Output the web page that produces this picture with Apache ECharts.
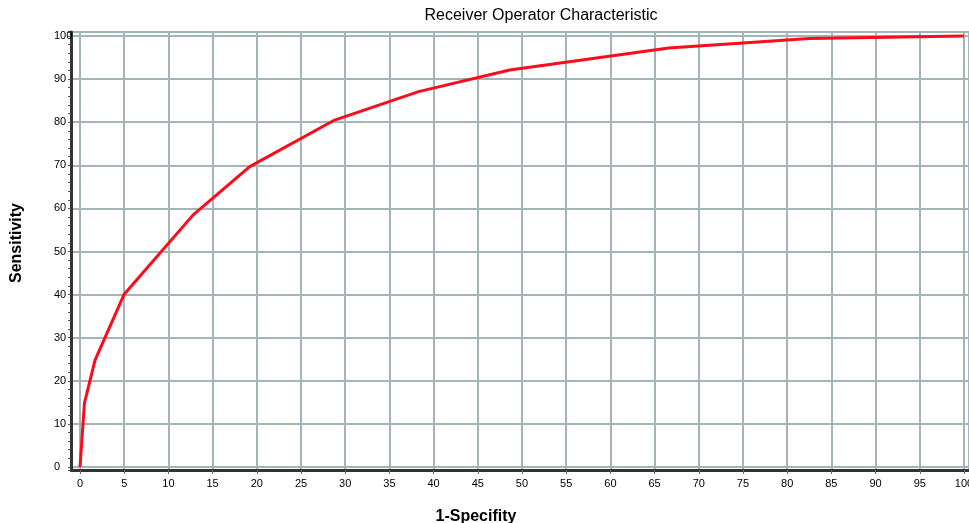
<!DOCTYPE html>
<html>
<head>
<meta charset="utf-8">
<script src="https://cdn.jsdelivr.net/npm/echarts@6/dist/echarts.min.js"></script>
<style>
  html, body { margin: 0; padding: 0; background: #fff; }
  #chart { width: 969px; height: 523px; }
</style>
</head>
<body>
<div id="chart"></div>
<script>
// ROC curve vertices
const specificity = [0, 0.5, 1.7, 5.0, 12.8, 19.2, 28.8, 38.3, 48.6, 66.6, 82.5, 100];
const sensitivity = [0, 14.8, 24.8, 40.1, 58.5, 69.7, 80.5, 87.1, 92.1, 97.2, 99.4, 100];

const chart = echarts.init(document.getElementById("chart"));

const gridLine = { lineStyle: { color: "#a2b5b9", width: 2 } };
const font = "Liberation Sans, Arial, sans-serif";

const option = {
  animation: false,
  title: {
    text: "Receiver Operator Characteristic",
    left: 536,
    top: 3,
    textAlign: "center",
    textStyle: { fontFamily: font, fontSize: 16, fontWeight: "normal", color: "#000" },
  },
  grid: {
    left: 71,
    right: 0,
    top: 32,
    bottom: 53,
    containLabel: false,
    outerBoundsMode: "none", // keep the plot where it is, labels may hang outside
    show: true, // the top border of the plot
    borderColor: "#7f7f7f",
    borderWidth: 2,
  },
  xAxis: {
    type: "value",
    min: -1.02, // the axes sit a little outside the 0..100 range
    max: 100.57,
    splitNumber: 20,
    name: "1-Specifity",
    nameLocation: "middle",
    nameGap: 39,
    nameMoveOverlap: false,
    nameTextStyle: { fontFamily: font, fontSize: 16, fontWeight: "bold", color: "#000", padding: [0, 88, 0, 0] },
    axisLine: { onZero: false, lineStyle: { color: "#333", width: 3 } },
    axisTick: { length: 4, lineStyle: { color: "#666" } },
    axisLabel: { fontFamily: font, fontSize: 11, color: "#000", margin: 8, showMinLabel: false, showMaxLabel: false },
    splitLine: gridLine,
  },
  yAxis: {
    type: "value",
    min: -0.7,
    max: 100.93,
    splitNumber: 10,
    name: "Sensitivity",
    nameLocation: "middle",
    nameGap: 46,
    nameMoveOverlap: false,
    nameTextStyle: { fontFamily: font, fontSize: 16, fontWeight: "bold", color: "#000", padding: [0, 0, 0, 16] },
    axisLine: { onZero: false, lineStyle: { color: "#333", width: 3 } },
    axisTick: { length: 3, lineStyle: { color: "#555" } },
    minorTick: { show: true, splitNumber: 5, length: 3, lineStyle: { color: "#555" } },
    axisLabel: { fontFamily: font, fontSize: 11, color: "#000", margin: 17, align: "left", showMinLabel: false, showMaxLabel: false },
    splitLine: gridLine,
  },
  series: [
    {
      type: "line",
      data: specificity.map((x, i) => [x, sensitivity[i]]),
      showSymbol: false,
      lineStyle: { color: "#ff0a1a", width: 3 },
    },
  ],
};
chart.setOption(option);
</script>
</body>
</html>
